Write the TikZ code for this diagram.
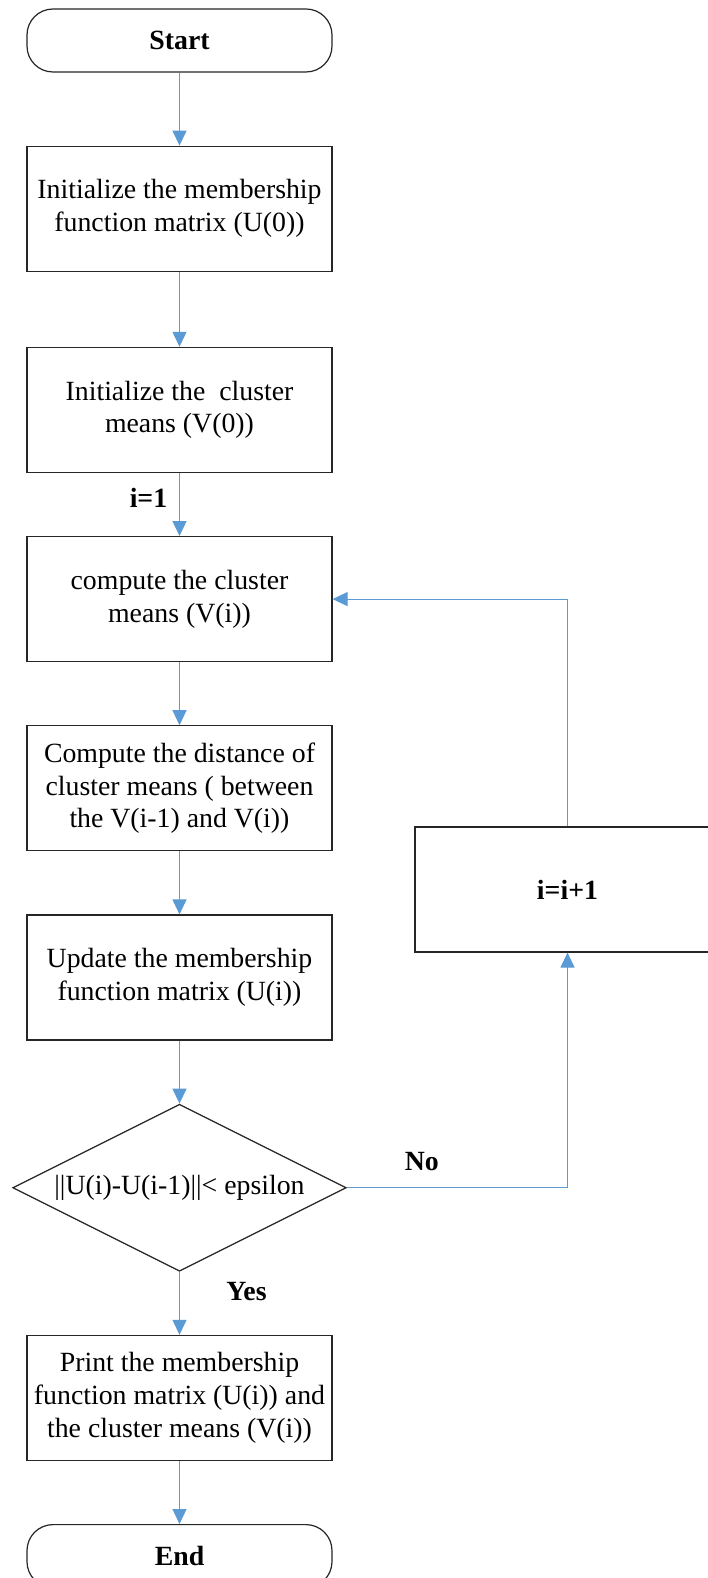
\documentclass[tikz,border=0pt]{standalone}
\usepackage{fontspec}
\setmainfont{Liberation Serif}
\usetikzlibrary{shapes.geometric, arrows.meta, positioning}
\definecolor{flowblue}{RGB}{91,155,213}

\begin{document}
\begin{tikzpicture}[
    x=0.5pt, y=-0.5pt,
    font=\fontsize{13.9}{16.4}\selectfont,
    box/.style={rectangle, draw=black!85, line width=0.6pt, fill=white,
                minimum width=152.5pt, minimum height=62.5pt, inner xsep=1pt, align=center},
    term/.style={box, rounded corners=13pt, minimum height=31.5pt, font=\fontsize{13.9}{16.4}\selectfont\bfseries},
    decision/.style={diamond, draw=black!85, line width=0.6pt, fill=white, aspect=2,
                inner sep=0pt, minimum width=166.75pt, minimum height=83.5pt},
    arrow/.style={-{Triangle[length=7.5pt, width=7pt]}, draw=flowblue, line width=0.6pt},
    tag/.style={font=\fontsize{13.9}{16.4}\selectfont\bfseries},
    node distance=31.5pt
  ]
    \path[fill=white, use as bounding box] (0,0) rectangle (707,1578);

    \node[term] (start) at (179.5,40.5) {Start};
    \node[box, below=36.5pt of start] (initu) {Initialize the membership\\function matrix (U(0))};
    \node[box, below=37.5pt of initu] (initv) {Initialize the\ \ cluster\\means (V(0))};
    \node[box, below=of initv] (means) {compute the cluster\\means (V(i))};
    \node[box, below=of means] (dist)  {Compute the distance of\\cluster means ( between\\the V(i-1) and V(i))};
    \node[box, below=of dist]  (update) {Update the membership\\function matrix (U(i))};
    \node[decision, below=of update] (check) {||U(i)-U(i-1)||< epsilon};
    \node[box, below=of check] (print) {Print the membership\\function matrix (U(i)) and\\the cluster means (V(i))};
    \node[term, below=of print] (stop) {End};
    \node[box, font=\fontsize{13.9}{16.4}\selectfont\bfseries] (incr) at (567.5,889.5) {i=i+1};

    \draw[arrow] (start) -- (initu);
    \draw[arrow] (initu) -- (initv);
    \draw[arrow] (initv) -- node[tag, pos=0.39, xshift=-15.5pt] (lone) {i=1} (means);
    \draw[arrow] (means) -- (dist);
    \draw[arrow] (dist) -- (update);
    \draw[arrow] (update) -- (check);
    \draw[arrow] (check) -- node[tag, pos=0.32, xshift=33.5pt] (lyes) {Yes} (print);
    \draw[arrow] (print) -- (stop);
    \draw[arrow] (check) -| node[tag, pos=0.17, yshift=13pt] (lno) {No} (incr);
    \draw[arrow] (incr) |- (means);
  \end{tikzpicture}
\end{document}
